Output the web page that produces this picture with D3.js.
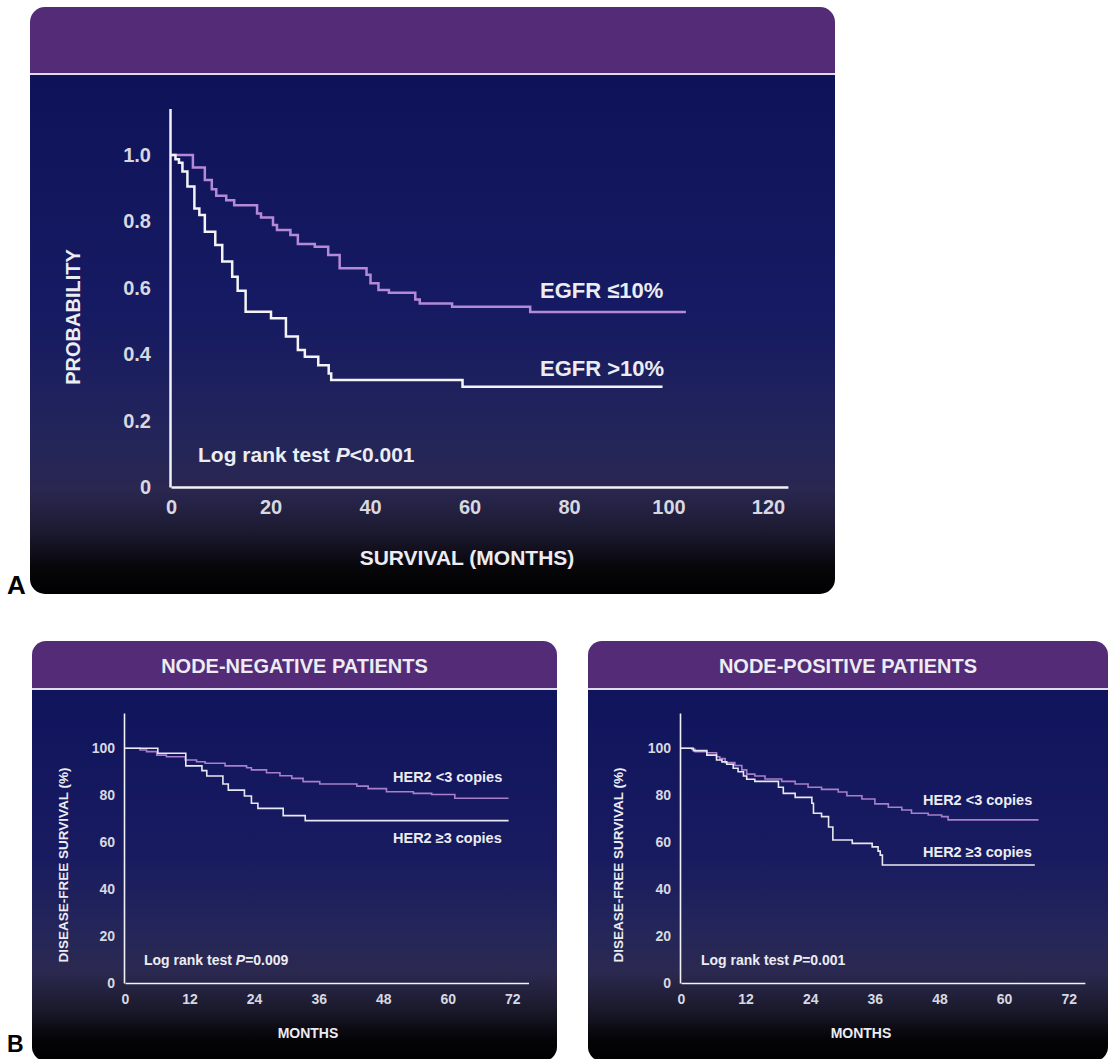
<!DOCTYPE html>
<html>
<head>
<meta charset="utf-8">
<script src="https://d3js.org/d3.v7.min.js"></script>
<style>
    body { margin: 0; background: #fff; }
    text { font-family: "Liberation Sans", Arial, Helvetica, sans-serif; }
</style>
</head>
<body>
<script>
    // ---- data ----
    // Panel A: Kaplan-Meier probability vs survival months
    const egfrMonthTicks = [0, 20, 40, 60, 80, 100, 120];
    const egfrProbTicks = [0, 0.2, 0.4, 0.6, 0.8, 1.0];
    // EGFR <=10%  [month, probability]
    const egfrLow = [[0, 1.0], [4.4, 0.962], [6.8, 0.925], [8.2, 0.897], [9.1, 0.877], [11.1, 0.864],
        [12.7, 0.849], [17.3, 0.824], [18.1, 0.812], [20.5, 0.789], [21.3, 0.774], [24.0, 0.759],
        [25.5, 0.732], [28.9, 0.724], [31.6, 0.699], [33.9, 0.659], [39.3, 0.639], [40.1, 0.614],
        [41.7, 0.593], [43.8, 0.585], [49.1, 0.565], [50.0, 0.553], [56.5, 0.543], [72.2, 0.527],
        [103.5, 0.527]];
    // EGFR >10%
    const egfrHigh = [[0, 1.0], [0.9, 0.987], [1.6, 0.977], [2.3, 0.950], [3.3, 0.905], [4.7, 0.839],
        [5.7, 0.819], [6.8, 0.769], [8.9, 0.729], [10.3, 0.679], [12.3, 0.633], [13.4, 0.591],
        [15.0, 0.528], [20.1, 0.508], [23.1, 0.453], [25.5, 0.413], [26.9, 0.392], [29.6, 0.367],
        [31.7, 0.342], [32.2, 0.322], [58.6, 0.302], [98.8, 0.302]];

    // Panel B: disease-free survival (%) vs months
    const monthTicks = [0, 12, 24, 36, 48, 60, 72];
    const dfsTicks = [0, 20, 40, 60, 80, 100];
    // node-negative, HER2 <3 copies
    const negLow = [[0, 100], [2.8, 99.3], [4.0, 98.6], [5.9, 97.1], [7.7, 96.4], [11.2, 95.0], [13.3, 94.3],
        [14.9, 93.6], [18.6, 92.5], [22.6, 91.7], [23.5, 90.8], [26.3, 89.6], [28.8, 88.3], [31.0, 87.2],
        [33.1, 85.8], [36.2, 84.8], [43.1, 83.9], [45.2, 82.8], [48.6, 81.5], [53.6, 80.8], [57.0, 80.3],
        [61.3, 78.7], [71.3, 78.7]];
    // node-negative, HER2 >=3 copies
    const negHigh = [[0, 100], [6.1, 97.9], [11.3, 92.5], [14.3, 90.5], [15.2, 88.2], [18.2, 84.8],
        [19.2, 82.2], [22.2, 79.7], [23.5, 76.6], [24.7, 74.4], [29.4, 71.3], [33.5, 69.2], [71.3, 69.2]];
    // node-positive, HER2 <3 copies
    const posLow = [[0, 100], [2.0, 99.6], [2.6, 98.6], [4.8, 98.1], [6.6, 96.4], [7.2, 95.6], [8.2, 93.9],
        [10.0, 92.7], [11.3, 90.8], [12.2, 89.0], [13.7, 88.2], [15.6, 86.9], [18.7, 85.9], [21.2, 84.8],
        [23.6, 83.4], [26.1, 82.5], [29.2, 81.4], [30.8, 79.8], [33.6, 78.4], [36.0, 76.3], [38.5, 74.9],
        [41.0, 73.7], [42.8, 72.3], [45.9, 71.6], [48.4, 70.9], [49.6, 69.5], [66.4, 69.5]];
    // node-positive, HER2 >=3 copies
    const posHigh = [[0, 100], [2.3, 99.0], [4.8, 97.1], [6.6, 95.0], [7.6, 94.2], [8.5, 93.2], [9.7, 91.5],
        [10.6, 90.0], [11.6, 88.2], [12.2, 86.8], [13.7, 85.9], [18.1, 83.4], [19.0, 80.8], [21.2, 79.1],
        [24.3, 76.6], [24.6, 72.3], [26.1, 70.9], [27.4, 66.5], [28.2, 60.9], [31.8, 59.5], [35.5, 58.0],
        [36.6, 56.2], [37.0, 54.5], [37.4, 50.3], [65.7, 50.3]];

    const PURPLE_HEAD = "#532b76";
    const TICK_COLOR = "#d8d8e0";
    const TEXT_COLOR = "#ececf2";

    let svg = d3.select("body").append("svg")
        .attr("width", 1110)
        .attr("height", 1059);
    let defs = svg.append("defs");

    // vertical body gradient: navy -> dusky purple -> black
    function makeGradient(id, stops) {
        let grad = defs.append("linearGradient").attr("id", id)
            .attr("x1", 0).attr("y1", 0).attr("x2", 0).attr("y2", 1);
        stops.forEach(s => grad.append("stop").attr("offset", s[0]).attr("stop-color", s[1]));
    }
    makeGradient("bodyA", [[0, "#0e1359"], [0.45, "#151a62"], [0.7, "#23255a"], [0.8, "#2a2750"],
        [0.88, "#1c1a30"], [0.95, "#070609"], [1, "#000"]]);
    makeGradient("bodyB", [[0, "#10145c"], [0.45, "#181b60"], [0.66, "#252659"], [0.76, "#2b2950"],
        [0.86, "#1b1a2c"], [0.94, "#050407"], [1, "#000"]]);

    function drawCard(id, c) {
        defs.append("clipPath").attr("id", "clip-" + id)
            .append("rect")
            .attr("x", c.x).attr("y", c.y).attr("width", c.w).attr("height", c.h).attr("rx", c.r);
        let g = svg.append("g").attr("clip-path", "url(#clip-" + id + ")");
        g.append("rect")
            .attr("x", c.x).attr("y", c.y + c.head).attr("width", c.w).attr("height", c.h - c.head)
            .attr("fill", "url(#" + c.grad + ")");
        g.append("rect")
            .attr("x", c.x).attr("y", c.y).attr("width", c.w).attr("height", c.head)
            .attr("fill", PURPLE_HEAD);
        g.append("rect")
            .attr("x", c.x).attr("y", c.y + c.head - 1).attr("width", c.w).attr("height", 2)
            .attr("fill", "#e2dbec");
        if (c.title) {
            svg.append("text")
                .attr("x", c.x + c.w / 2).attr("y", c.y + c.head / 2 + 1)
                .attr("text-anchor", "middle").attr("dominant-baseline", "central")
                .attr("font-size", c.titleSize).attr("font-weight", "bold")
                .attr("fill", TEXT_COLOR)
                .text(c.title);
        }
    }

    function drawPlot(p) {
        let x = d3.scaleLinear().domain(p.xDomain).range(p.xRange);
        let y = d3.scaleLinear().domain(p.yDomain).range(p.yRange);
        let g = svg.append("g");

        let xAxis = g.append("g")
            .attr("transform", "translate(0," + p.yRange[0] + ")")
            .call(d3.axisBottom(x).tickValues(p.xTicks).tickSize(0).tickSizeOuter(0).tickPadding(p.xPad));
        let yAxis = g.append("g")
            .attr("transform", "translate(" + p.axisX + ",0)")
            .call(d3.axisLeft(y).tickValues(p.yTicks).tickSize(0).tickSizeOuter(0).tickPadding(p.yPad)
                .tickFormat(p.yFormat));

        [xAxis, yAxis].forEach(a => {
            a.select(".domain").attr("stroke", "#f2f2f6").attr("stroke-width", p.axisWidth);
            a.selectAll("text")
                .attr("fill", TICK_COLOR)
                .attr("font-size", p.tickSize)
                .attr("font-weight", "bold")
                .style("font-family", "'Liberation Sans', Arial, sans-serif");
        });

        let line = d3.line()
            .x(d => x(d[0]))
            .y(d => y(d[1]))
            .curve(d3.curveStepAfter);

        p.series.forEach(s => {
            g.append("path")
                .datum(s.data)
                .attr("fill", "none")
                .attr("stroke", s.color)
                .attr("stroke-width", p.lineWidth)
                .attr("d", line);
        });

        // axis titles
        g.append("text")
            .attr("x", p.xTitle[0]).attr("y", p.xTitle[1])
            .attr("text-anchor", "middle").attr("dominant-baseline", "central")
            .attr("font-size", p.titleSize).attr("font-weight", "bold").attr("fill", TEXT_COLOR)
            .text(p.xLabel);
        g.append("text")
            .attr("transform", "translate(" + p.yTitle[0] + "," + p.yTitle[1] + ") rotate(-90)")
            .attr("text-anchor", "middle").attr("dominant-baseline", "central")
            .attr("font-size", p.yTitleSize).attr("font-weight", "bold").attr("fill", TEXT_COLOR)
            .text(p.yLabel);

        // series labels
        p.labels.forEach(l => {
            g.append("text")
                .attr("x", l.x).attr("y", l.y)
                .attr("dominant-baseline", "central")
                .attr("font-size", p.labelSize).attr("font-weight", "bold").attr("fill", TEXT_COLOR)
                .text(l.text);
        });

        // log rank note
        let note = g.append("text")
            .attr("x", p.note.x).attr("y", p.note.y)
            .attr("dominant-baseline", "central")
            .attr("font-size", p.noteSize).attr("font-weight", "bold").attr("fill", TEXT_COLOR);
        note.append("tspan").text("Log rank test ");
        note.append("tspan").attr("font-style", "italic").text("P");
        note.append("tspan").text(p.note.text);
    }

    // ---- panel A ----
    drawCard("a", { x: 30, y: 7, w: 805, h: 587, r: 15, head: 67, grad: "bodyA" });
    drawPlot({
        xDomain: [0, 124], xRange: [171, 171 + 124 * 4.975],
        yDomain: [0, 1.14], yRange: [487, 487 - 1.14 * 332],
        axisX: 170,
        xTicks: egfrMonthTicks, yTicks: egfrProbTicks,
        yFormat: d => d === 0 ? "0" : d.toFixed(1),
        xPad: 13, yPad: 19, tickSize: 20, axisWidth: 2.5, lineWidth: 2.5,
        xLabel: "SURVIVAL (MONTHS)", xTitle: [467, 557], titleSize: 21,
        yLabel: "PROBABILITY", yTitle: [73, 317], yTitleSize: 20,
        series: [
            { data: egfrLow, color: "#b48ad8" },
            { data: egfrHigh, color: "#f4f4f6" }
        ],
        labelSize: 22,
        labels: [
            { x: 540, y: 290, text: "EGFR \u226410%" },
            { x: 540, y: 368, text: "EGFR >10%" }
        ],
        noteSize: 21, note: { x: 198, y: 454, text: "<0.001" }
    });

    // ---- panel B ----
    drawCard("bl", { x: 32, y: 641, w: 525, h: 420, r: 14, head: 48, grad: "bodyB",
        title: "NODE-NEGATIVE PATIENTS", titleSize: 20 });
    drawCard("br", { x: 588, y: 641, w: 520, h: 420, r: 14, head: 48, grad: "bodyB",
        title: "NODE-POSITIVE PATIENTS", titleSize: 20 });

    let bCommon = {
        xDomain: [0, 75], yDomain: [0, 115], yRange: [983, 983 - 115 * 2.347],
        xTicks: monthTicks, yTicks: dfsTicks, yFormat: d => d,
        xPad: 11, yPad: 9, tickSize: 14, axisWidth: 1.6, lineWidth: 1.6,
        xLabel: "MONTHS", titleSize: 14,
        yLabel: "DISEASE-FREE SURVIVAL (%)", yTitleSize: 13.5,
        labelSize: 14.5, noteSize: 14
    };

    drawPlot(Object.assign({}, bCommon, {
        xRange: [125, 125 + 75 * 5.38], axisX: 124,
        xTitle: [308, 1033], yTitle: [63, 865],
        series: [
            { data: negLow, color: "#a77fca" },
            { data: negHigh, color: "#e8e8f0" }
        ],
        labels: [
            { x: 393, y: 777, text: "HER2 <3 copies" },
            { x: 393, y: 838, text: "HER2 \u22653 copies" }
        ],
        note: { x: 144, y: 960, text: "=0.009" }
    }));

    drawPlot(Object.assign({}, bCommon, {
        xRange: [681, 681 + 75 * 5.385], axisX: 680,
        xTitle: [861, 1033], yTitle: [618, 865],
        series: [
            { data: posLow, color: "#a77fca" },
            { data: posHigh, color: "#e8e8f0" }
        ],
        labels: [
            { x: 923, y: 800, text: "HER2 <3 copies" },
            { x: 923, y: 852, text: "HER2 \u22653 copies" }
        ],
        note: { x: 701, y: 960, text: "=0.001" }
    }));

    // panel letters
    svg.append("text").attr("x", 7).attr("y", 594)
        .attr("font-size", 26).attr("font-weight", "bold").attr("fill", "#000").text("A");
    svg.append("text").attr("x", 7).attr("y", 1052)
        .attr("font-size", 23).attr("font-weight", "bold").attr("fill", "#000").text("B");
</script>
</body>
</html>
